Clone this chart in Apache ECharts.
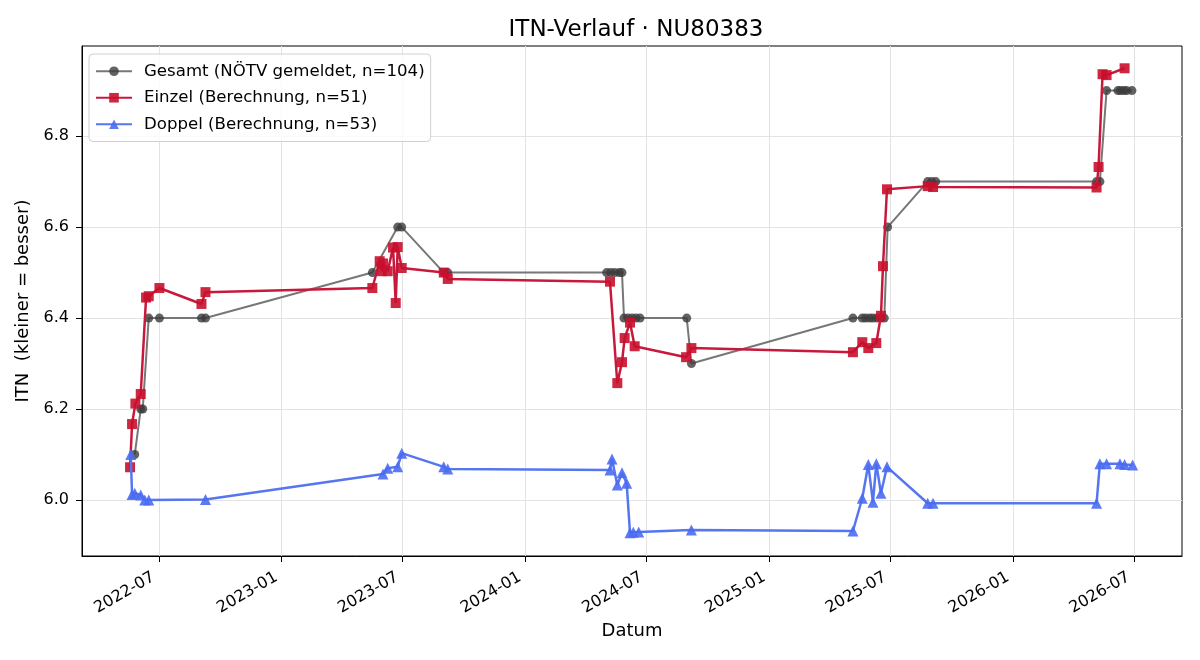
<!DOCTYPE html>
<html>
<head>
<meta charset="utf-8">
<script src="https://cdn.jsdelivr.net/npm/echarts@6/dist/echarts.min.js"></script>
<style>
  html, body { margin: 0; padding: 0; background: #fff; }
  #main { width: 1200px; height: 660px; }
</style>
</head>
<body>
<div id="main"></div>
<script>
// Gesamt (NÖTV gemeldet)
var gesamtDates = ['2022-05-26','2022-06-04','2022-06-07','2022-06-16','2022-07-02','2022-09-03','2022-09-09',
  '2023-05-17','2023-06-24','2023-06-30','2023-09-01','2023-09-07',
  '2024-05-02','2024-05-08','2024-05-14','2024-05-21','2024-05-25','2024-05-28','2024-06-03','2024-06-09','2024-06-15','2024-06-21',
  '2024-08-30','2024-09-06',
  '2025-05-06','2025-05-20','2025-05-25','2025-05-31','2025-06-05','2025-06-11','2025-06-17','2025-06-22','2025-06-27',
  '2025-08-26','2025-09-01','2025-09-07',
  '2026-05-06','2026-05-11','2026-05-21','2026-06-07','2026-06-11','2026-06-16','2026-06-20','2026-06-28'];
var gesamtValues = [6.1,6.2,6.2,6.4,6.4,6.4,6.4,
  6.5,6.6,6.6,6.5,6.5,
  6.5,6.5,6.5,6.5,6.5,6.4,6.4,6.4,6.4,6.4,
  6.4,6.3,
  6.4,6.4,6.4,6.4,6.4,6.4,6.4,6.4,6.6,
  6.7,6.7,6.7,
  6.7,6.7,6.9,6.9,6.9,6.9,6.9,6.9];

// Einzel (Berechnung)
var einzelDates = ['2022-05-19','2022-05-22','2022-05-27','2022-06-04','2022-06-12','2022-06-16','2022-07-02','2022-09-03','2022-09-09',
  '2023-05-17','2023-05-28','2023-05-31','2023-06-02','2023-06-09','2023-06-17','2023-06-21','2023-06-24','2023-06-30','2023-09-01','2023-09-07',
  '2024-05-07','2024-05-18','2024-05-25','2024-05-29','2024-06-06','2024-06-13','2024-08-29','2024-09-06',
  '2025-05-06','2025-05-20','2025-05-29','2025-06-10','2025-06-17','2025-06-20','2025-06-26','2025-08-26','2025-09-03',
  '2026-05-06','2026-05-09','2026-05-15','2026-05-21','2026-06-17'];
var einzelValues = [6.072,6.167,6.212,6.233,6.445,6.448,6.466,6.431,6.457,
  6.466,6.525,6.503,6.52,6.503,6.555,6.433,6.556,6.51,6.50,6.486,
  6.48,6.257,6.303,6.356,6.39,6.338,6.314,6.334,
  6.325,6.347,6.334,6.345,6.405,6.514,6.683,6.69,6.688,
  6.687,6.732,6.936,6.934,6.949];

// Doppel (Berechnung)
var doppelDates = ['2022-05-20','2022-05-22','2022-05-26','2022-06-04','2022-06-10','2022-06-16','2022-09-09',
  '2023-06-02','2023-06-09','2023-06-24','2023-06-30','2023-09-01','2023-09-07',
  '2024-05-07','2024-05-10','2024-05-18','2024-05-25','2024-06-01','2024-06-06','2024-06-11','2024-06-19','2024-09-06',
  '2025-05-06','2025-05-20','2025-05-29','2025-06-05','2025-06-10','2025-06-17','2025-06-26','2025-08-26','2025-09-03',
  '2026-05-06','2026-05-11','2026-05-21','2026-06-10','2026-06-17','2026-06-29'];
var doppelValues = [6.10,6.012,6.015,6.011,6.0,6.0,6.001,
  6.057,6.07,6.073,6.103,6.073,6.068,
  6.066,6.09,6.033,6.06,6.037,5.928,5.929,5.93,5.934,
  5.932,6.004,6.078,5.995,6.08,6.015,6.073,5.993,5.993,
  5.993,6.08,6.08,6.08,6.078,6.077];

var xTickLabels = ['2022-07','2023-01','2023-07','2024-01','2024-07','2025-01','2025-07','2026-01','2026-07'];
var yTicks = [6.0, 6.2, 6.4, 6.6, 6.8];

function toTime(s) {
  var p = s.split('-');
  return Date.UTC(+p[0], +p[1] - 1, p[2] ? +p[2] : 1);
}
function pairs(dates, values) {
  var out = [];
  for (var i = 0; i < dates.length; i++) out.push([toTime(dates[i]), values[i]]);
  return out;
}
function pad(n) { return n < 10 ? '0' + n : '' + n; }

var xTickValues = xTickLabels.map(toTime);
var fontName = 'DejaVu Sans';

var myChart = echarts.init(document.getElementById('main'));
var option = {
  animation: false,
  backgroundColor: '#fff',
  textStyle: { fontFamily: fontName, color: '#000' },
  title: {
    text: 'ITN-Verlauf · NU80383',
    left: 631,
    textAlign: 'center',
    top: 14,
    textStyle: { fontFamily: fontName, fontSize: 23, fontWeight: 'normal', color: '#000' }
  },
  grid: {
    left: 82, right: 18, top: 46, bottom: 104,
    show: true, borderColor: '#000', borderWidth: 1
  },
  legend: {
    orient: 'vertical',
    left: 89, top: 54,
    padding: [8, 6, 8, 6],
    itemGap: 8,
    itemWidth: 36, itemHeight: 12,
    backgroundColor: 'rgba(255,255,255,0.8)',
    borderColor: '#d0d0d0', borderWidth: 1, borderRadius: 4,
    textStyle: { fontFamily: fontName, fontSize: 16.6, lineHeight: 18.5, color: '#000', padding: [0, 0, 0, 7] },
    data: ['Gesamt (NÖTV gemeldet, n=104)', 'Einzel (Berechnung, n=51)', 'Doppel (Berechnung, n=53)']
  },
  xAxis: {
    type: 'value',
    scale: true,
    min: toTime('2022-03-08'),
    max: toTime('2026-09-11'),
    name: 'Datum',
    nameLocation: 'middle',
    nameGap: 66,
    nameTextStyle: { fontFamily: fontName, fontSize: 18, color: '#000' },
    axisLine: { onZero: false, lineStyle: { color: '#000', width: 1 } },
    axisTick: { show: true, length: 6, customValues: xTickValues, lineStyle: { color: '#000' } },
    axisLabel: {
      customValues: xTickValues,
      rotate: 30,
      fontFamily: fontName, fontSize: 16, color: '#000', margin: 17,
      padding: [0, 6, 0, 0],
      formatter: function (v) {
        var d = new Date(v);
        return d.getUTCFullYear() + '-' + pad(d.getUTCMonth() + 1);
      }
    },
    splitLine: { show: true, lineStyle: { color: '#e3e3e3', width: 1 } }
  },
  yAxis: {
    type: 'value',
    min: 5.877,
    max: 6.998,
    name: 'ITN  (kleiner = besser)',
    nameLocation: 'middle',
    nameGap: 49,
    nameTextStyle: { fontFamily: fontName, fontSize: 18, color: '#000' },
    axisLine: { show: true, onZero: false, lineStyle: { color: '#000', width: 1 } },
    axisTick: { show: true, length: 6, customValues: yTicks, lineStyle: { color: '#000' } },
    axisLabel: {
      customValues: yTicks,
      fontFamily: fontName, fontSize: 16, color: '#000', margin: 13,
      formatter: function (v) { return v.toFixed(1); }
    },
    splitLine: { show: true, lineStyle: { color: '#e3e3e3', width: 1 } }
  },
  series: [
    {
      name: 'Gesamt (NÖTV gemeldet, n=104)',
      type: 'line',
      data: pairs(gesamtDates, gesamtValues),
      symbol: 'circle', symbolSize: 9,
      itemStyle: { color: '#3c3c3c', opacity: 0.8 },
      lineStyle: { color: '#777777', width: 2 },
      z: 2
    },
    {
      name: 'Einzel (Berechnung, n=51)',
      type: 'line',
      data: pairs(einzelDates, einzelValues),
      symbol: 'rect', symbolSize: 10,
      itemStyle: { color: '#c8102e', opacity: 0.9 },
      lineStyle: { color: '#c8193c', width: 2.5 },
      z: 3
    },
    {
      name: 'Doppel (Berechnung, n=53)',
      type: 'line',
      data: pairs(doppelDates, doppelValues),
      symbol: 'triangle', symbolSize: 11,
      itemStyle: { color: '#4a6cf2', opacity: 0.9 },
      lineStyle: { color: '#5676f0', width: 2.5 },
      z: 4
    }
  ]
};
myChart.setOption(option);
</script>
</body>
</html>
